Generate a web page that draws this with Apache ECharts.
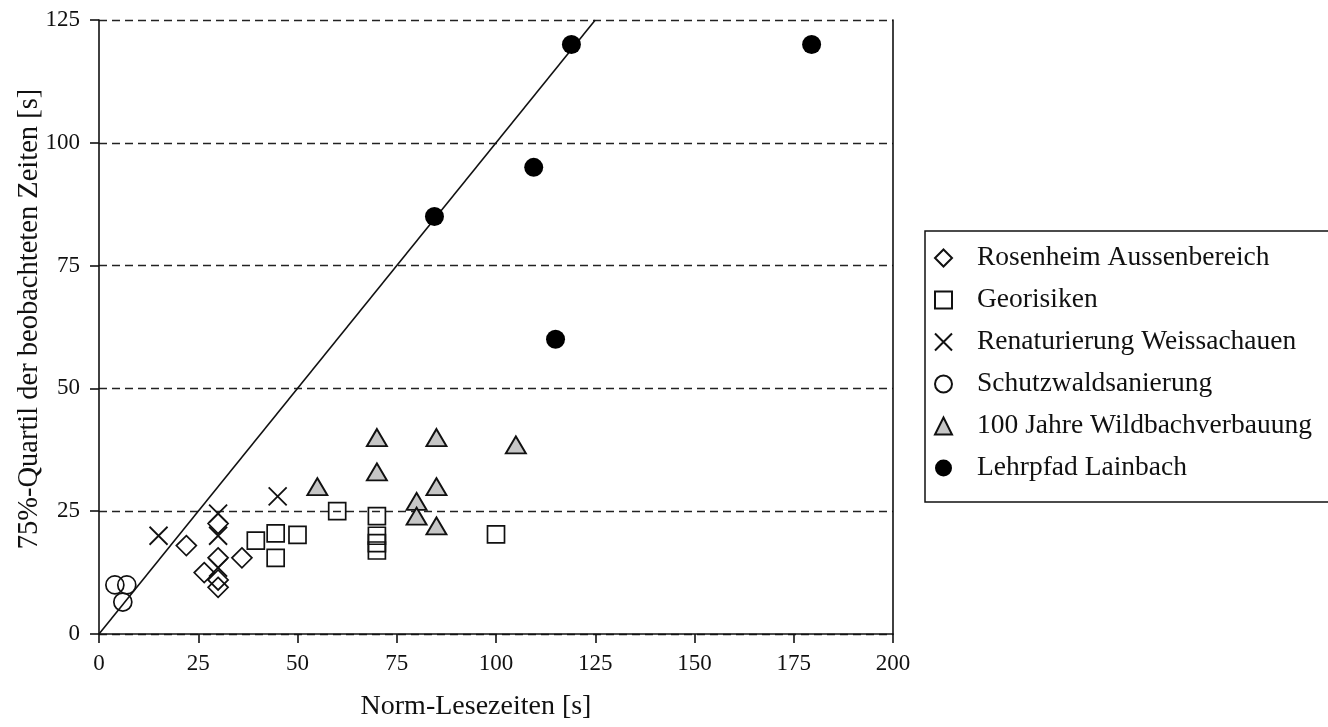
<!DOCTYPE html>
<html>
<head>
<meta charset="utf-8">
<script src="https://cdn.jsdelivr.net/npm/echarts@6/dist/echarts.min.js"></script>
<style>
html,body{margin:0;padding:0;background:#fff;}
#c{width:1328px;height:727px;}
</style>
</head>
<body>
<div id="c"></div>
<script>
// ---- data ----
var xTicks = [0, 25, 50, 75, 100, 125, 150, 175, 200];
var yTicks = [0, 25, 50, 75, 100, 125];
var rosenheim = [[22,18],[30,22.5],[30,15.5],[26.5,12.5],[30,11],[30,9.5],[36,15.5]];
var georisiken = [[39.5,19],[44.5,20.5],[50,20.2],[44.5,15.5],[60,25],[70,24],[70,20],[70,18.5],[70,17],[100,20.3]];
var renaturierung = [[15,20],[30,24.5],[30,20],[45,28],[30,13.5]];
var schutzwald = [[4,10],[7,10],[6,6.5]];
var wildbach = [[70,40],[85,40],[105,38.5],[70,33],[55,30],[85,30],[80,27],[80,24],[85,22]];
var lainbach = [[119,120],[179.5,120],[109.5,95],[84.5,85],[115,60]];
var diagonal = [[0,0],[125,125]];
var seriesNames = ['Rosenheim Aussenbereich','Georisiken','Renaturierung Weissachauen','Schutzwaldsanierung','100 Jahre Wildbachverbauung','Lehrpfad Lainbach'];

var font = 'Liberation Serif';
var ink = '#111';
var chart = echarts.init(document.getElementById('c'));
var hollow = {color:'transparent', borderColor:ink, borderWidth:1.7, opacity:1};
chart.setOption({
  animation:false,
  backgroundColor:'#fff',
  textStyle:{fontFamily:font, color:ink},
  grid:{left:99, right:435, top:20, bottom:93, containLabel:false, outerBoundsMode:'none'},
  legend:{
    orient:'vertical', left:925, top:231,
    data:seriesNames,
    padding:[13,30,20,9],
    borderColor:ink, borderWidth:1.5,
    itemWidth:17, itemHeight:17, itemGap:14,
    textStyle:{fontFamily:font, fontSize:27.5, color:ink, lineHeight:27, padding:[0,0,0,20]}
  },
  xAxis:{
    type:'value', min:0, max:200, interval:25,
    name:'Norm-Lesezeiten [s]', nameLocation:'middle', nameGap:59, nameMoveOverlap:false,
    nameTextStyle:{fontFamily:font, fontSize:28, color:ink, padding:[0,40,0,0]},
    axisLine:{show:true, lineStyle:{color:ink, width:1.6}},
    axisTick:{show:true, length:9, inside:false, lineStyle:{color:ink, width:1.6}},
    axisLabel:{fontFamily:font, fontSize:23, color:ink, margin:18,
      formatter:function(v){return xTicks.indexOf(v)>=0? String(v):'';}},
    splitLine:{show:false}
  },
  yAxis:[{
    type:'value', min:0, max:125, interval:25,
    name:'75%-Quartil der beobachteten Zeiten [s]', nameLocation:'middle', nameGap:55, nameMoveOverlap:false,
    nameTextStyle:{fontFamily:font, fontSize:28.5, color:ink, padding:[0,0,0,16]},
    axisLine:{show:true, lineStyle:{color:ink, width:1.6}},
    axisTick:{show:true, length:9, lineStyle:{color:ink, width:1.6}},
    axisLabel:{fontFamily:font, fontSize:23, color:ink, margin:19,
      formatter:function(v){return yTicks.indexOf(v)>=0? String(v):'';}},
    splitLine:{show:true, lineStyle:{color:'#222', width:1.4, type:[8,5]}}
  },{
    type:'value', min:0, max:125, interval:25, position:'right',
    axisLine:{show:true, onZero:false, lineStyle:{color:ink, width:1.6}},
    axisTick:{show:false}, axisLabel:{show:false}, splitLine:{show:false}
  }],
  series:[
    {name:'diag', type:'line', data:diagonal, symbol:'none', silent:true,
     lineStyle:{color:ink, width:1.6}, z:1},
    {name:seriesNames[0], type:'scatter', data:rosenheim, symbol:'diamond', symbolSize:[20,20], itemStyle:hollow, z:3},
    {name:seriesNames[1], type:'scatter', data:georisiken, symbol:'rect', symbolSize:17, itemStyle:hollow, z:3},
    {name:seriesNames[2], type:'scatter', data:renaturierung, symbol:'path://M0,0L10,10M10,0L0,10', symbolSize:18,
     itemStyle:{color:'transparent', borderColor:ink, borderWidth:1.8, opacity:1}, z:3},
    {name:seriesNames[3], type:'scatter', data:schutzwald, symbol:'circle', symbolSize:18, itemStyle:hollow, z:3},
    {name:seriesNames[4], type:'scatter', data:wildbach, symbol:'triangle', symbolSize:[20,17],
     itemStyle:{color:'#c6c6c6', borderColor:ink, borderWidth:1.9, opacity:1}, z:3},
    {name:seriesNames[5], type:'scatter', data:lainbach, symbol:'circle', symbolSize:19,
     itemStyle:{color:'#000', borderColor:'#000', borderWidth:0, opacity:1}, z:3}
  ]
});
</script>
</body>
</html>
